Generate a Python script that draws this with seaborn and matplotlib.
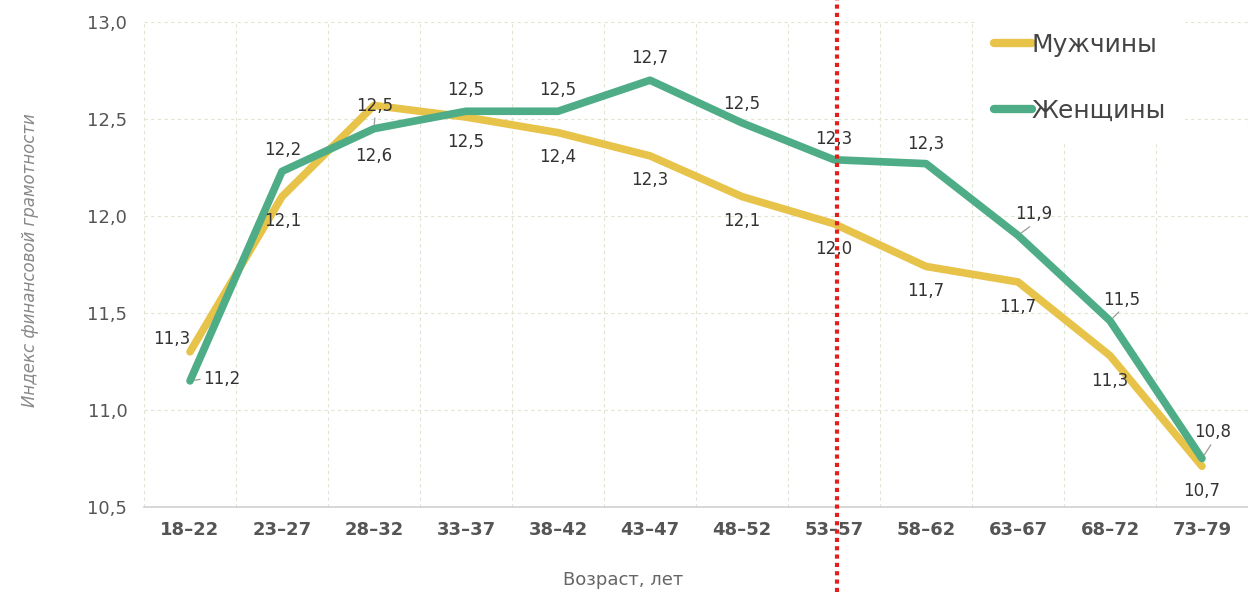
import matplotlib.pyplot as plt
import seaborn as sns
import pandas as pd
import numpy as np

# Data
ages = ['18–22', '23–27', '28–32', '33–37', '38–42', '43–47',
        '48–52', '53–57', '58–62', '63–67', '68–72', '73–79']
men = [11.30, 12.10, 12.57, 12.51, 12.43, 12.31, 12.10, 11.96, 11.74, 11.66, 11.28, 10.71]
women = [11.15, 12.23, 12.45, 12.54, 12.54, 12.70, 12.48, 12.29, 12.27, 11.90, 11.46, 10.75]
men_labels = ['11,3', '12,1', '12,6', '12,5', '12,4', '12,3', '12,1', '12,0', '11,7', '11,7', '11,3', '10,7']
women_labels = ['11,2', '12,2', '12,5', '12,5', '12,5', '12,7', '12,5', '12,3', '12,3', '11,9', '11,5', '10,8']

# label offsets in pixels (dx, dy)
men_off = [(-18, 13), (1, -24), (0, -51), (0, -25), (0, -24), (0, -24),
           (0, -24), (0, -25), (0, -25), (0, -25), (0, -25), (0, -25)]
women_off = [(32, 2), (1, 21), (1, 23), (0, 21), (0, 21), (0, 22),
             (0, 19), (0, 21), (0, 20), (16, 21), (12, 21), (11, 26)]
leader = {0, 2, 9, 10, 11}

YELLOW = '#E8C349'
GREEN = '#4EAD86'

df = pd.DataFrame({
    'age': ages * 2,
    'value': men + women,
    'sex': ['Мужчины'] * len(ages) + ['Женщины'] * len(ages),
})

sns.set_style('white')
plt.rcParams['font.family'] = ['DejaVu Sans']

fig = plt.figure(figsize=(12.48, 5.92), dpi=100)
ax = fig.add_axes([0.1154, 0.1436, 0.8846, 0.8192])

sns.lineplot(data=df, x='age', y='value', hue='sex', sort=False,
             palette={'Мужчины': YELLOW, 'Женщины': GREEN},
             linewidth=5.5, ax=ax, legend=True)
for ln in ax.lines:
    ln.set_solid_capstyle('round')
    ln.set_solid_joinstyle('round')

ax.set_xlim(-0.5, 11.355)
ax.set_ylim(10.5, 13.0)
ax.set_yticks(np.arange(10.5, 13.01, 0.5))
ax.set_yticklabels([f'{v:.1f}'.replace('.', ',') for v in np.arange(10.5, 13.01, 0.5)],
                   fontsize=13, color='#555555')
ax.set_xticks(range(len(ages)))
ax.set_xticklabels(ages, fontsize=13, fontweight='bold', color='#555555')
ax.tick_params(axis='x', length=0, pad=10)
ax.tick_params(axis='y', length=0, pad=12)

# grid: vertical at category boundaries, horizontal at ticks
ax.set_xticks(np.arange(-0.5, 11.6, 1), minor=True)
ax.tick_params(which='minor', length=0)
ax.grid(False)
ax.grid(which='minor', axis='x', color='#dfe5d3', linestyle=(0, (3, 3)), linewidth=0.8)
ax.grid(which='major', axis='y', color='#dfe5d3', linestyle=(0, (3, 3)), linewidth=0.8)

for s in ['top', 'right', 'left']:
    ax.spines[s].set_visible(False)
ax.spines['bottom'].set_color('#d0d0d0')
ax.spines['bottom'].set_linewidth(1.2)

ax.set_xlabel('Возраст, лет', fontsize=13, color='#666666', va='center')
ax.xaxis.set_label_coords(0.434, -0.15)
ax.set_ylabel('Индекс финансовой грамотности', fontsize=12, color='#888888',
              fontstyle='italic', va='center')
ax.yaxis.set_label_coords(-0.103, 0.51)

# data labels
for i in range(len(ages)):
    ax.annotate(men_labels[i], (i, men[i]), xytext=men_off[i], textcoords='offset pixels',
                ha='center', va='center', fontsize=12, color='#333333')
    kw = {}
    if i in leader:
        kw['arrowprops'] = dict(arrowstyle='-', color='#9a9a9a', lw=0.9,
                                shrinkA=0, shrinkB=3, relpos=(0.0, 0.5) if i == 0 else (0.5, 0.0))
    ax.annotate(women_labels[i], (i, women[i]), xytext=women_off[i], textcoords='offset pixels',
                ha='center', va='center', fontsize=12, color='#333333', zorder=4, **kw)

# red dotted retirement-age line
ax.axvline(7.03, ymin=-0.175, ymax=1.05, clip_on=False, color='#e0201b',
           linestyle=(0, (1, 1)), linewidth=3, zorder=5)

handles, labels = ax.get_legend_handles_labels()
leg = ax.legend(handles, labels, loc='upper left', bbox_to_anchor=(0.743, 1.04),
                frameon=True, facecolor='white', edgecolor='white', framealpha=1,
                fontsize=18, handlelength=1.5, handletextpad=0.0, labelspacing=1.7,
                borderpad=0.7, labelcolor='#444444')
for h in leg.get_lines():
    h.set_linewidth(6)
    h.set_solid_capstyle('round')

fig.savefig('out.png', dpi=100)
